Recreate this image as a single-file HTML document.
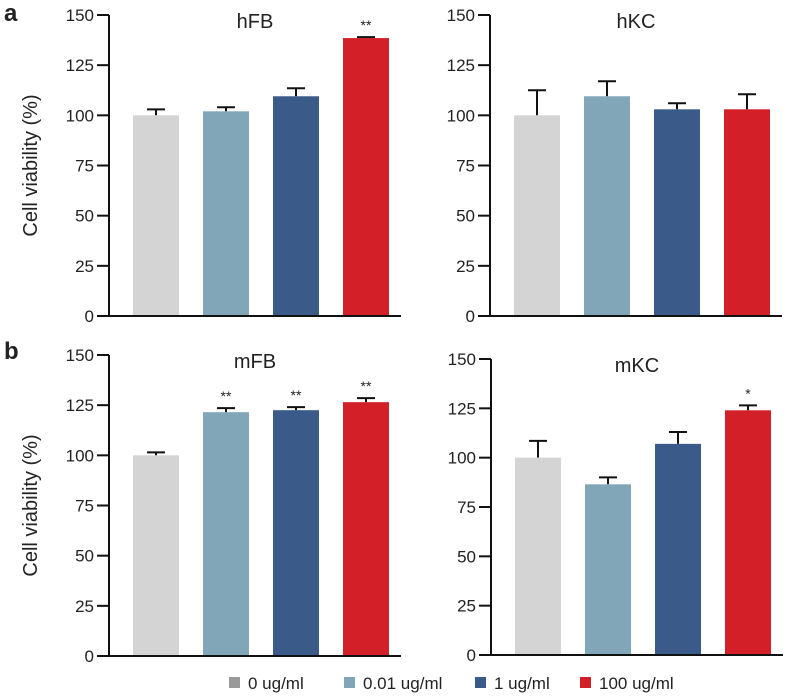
<!DOCTYPE html>
<html><head><meta charset="utf-8"><style>
body{margin:0;background:#fff;width:797px;height:695px;overflow:hidden}
svg text{font-family:"Liberation Sans",Arial,sans-serif;fill:#222}
</style></head><body>
<svg id="c" width="797" height="695" xmlns="http://www.w3.org/2000/svg"></svg>
<script>
const categories=["0 ug/ml","0.01 ug/ml","1 ug/ml","100 ug/ml"];
const panelTitles=["hFB","hKC","mFB","mKC"];
const hFBValues=[100,102,109.5,138.5];
const hFBErrors=[3,2,4,0.5];
const hFBStars=["","","","**"];
const hKCValues=[100,109.5,103,103];
const hKCErrors=[12.5,7.5,3,7.5];
const hKCStars=["","","",""];
const mFBValues=[100,121.5,122.5,126.5];
const mFBErrors=[1.5,2,1.5,2];
const mFBStars=["","**","**","**"];
const mKCValues=[100,86.5,107,124];
const mKCErrors=[8.5,3.5,6,2.5];
const mKCStars=["","","","*"];
const tickLabels=[0,25,50,75,100,125,150];
const colors=["#d4d4d4","#80a6b8","#3a5a89","#d21f28"];
const svg=document.getElementById('c');
const NS="http://www.w3.org/2000/svg";
function mk(t,a,txt){const e=document.createElementNS(NS,t);for(const k in a)e.setAttribute(k,a[k]);if(txt!==undefined)e.textContent=txt;svg.appendChild(e);return e;}
const panels=[
 {ax:109,top:15,bot:316,vals:hFBValues,errs:hFBErrors,stars:hFBStars,key:"hfb"},
 {ax:490,top:15,bot:316,vals:hKCValues,errs:hKCErrors,stars:hKCStars,key:"hkc"},
 {ax:109,top:355,bot:656,vals:mFBValues,errs:mFBErrors,stars:mFBStars,key:"mfb"},
 {ax:491,top:359,bot:655,vals:mKCValues,errs:mKCErrors,stars:mKCStars,key:"mkc"}];
panels.forEach((p,pi)=>{
 const y=v=>p.bot-(v/150)*(p.bot-p.top);
 const x=i=>p.ax+24+i*70;
 let e=mk('line',{x1:p.ax,y1:p.top,x2:p.ax,y2:p.bot,stroke:'#111','stroke-width':2});
 
 
 e=mk('line',{x1:p.ax-11,y1:p.bot,x2:p.ax+292,y2:p.bot,stroke:'#111','stroke-width':2});
 
 
 tickLabels.forEach(t=>{
  mk('line',{x1:p.ax-12,y1:y(t),x2:p.ax,y2:y(t),stroke:'#111','stroke-width':2});
  e=mk('text',{x:p.ax-15,y:y(t)+6,'text-anchor':'end','font-size':17},String(t));
  
  
 });
 p.vals.forEach((v,i)=>{
  const ey=y(v+p.errs[i]);
  mk('line',{x1:x(i)+23,y1:y(v),x2:x(i)+23,y2:ey,stroke:'#111','stroke-width':2});
  mk('line',{x1:x(i)+14,y1:ey,x2:x(i)+32,y2:ey,stroke:'#111','stroke-width':2});
  e=mk('rect',{x:x(i),y:y(v),width:46,height:p.bot-1-y(v),fill:colors[i]});
  
  
  if(p.stars[i]){e=mk('text',{x:x(i)+23,y:ey-7,'text-anchor':'middle','font-size':14},p.stars[i]);
   
   }
 });
 e=mk('text',{x:p.ax+146,y:p.top+13,'text-anchor':'middle','font-size':20},panelTitles[pi]);
 
 
 if(pi%2===0){
  const cy=(p.top+p.bot)/2;
  e=mk('text',{x:37,y:cy,'text-anchor':'middle','font-size':20,transform:`rotate(-90 37 ${cy})`},"Cell viability (%)");
  
  
 }
});
let e=mk('text',{x:4,y:21,'font-size':24,'font-weight':'bold'},"a");


e=mk('text',{x:4,y:359,'font-size':24,'font-weight':'bold'},"b");


const legX=[229,344,475,580];
const legCols=["#9a9a9a","#80a6b8","#3a5a89","#d21f28"];
categories.forEach((c,i)=>{
 let r=mk('rect',{x:legX[i],y:677,width:11,height:11,fill:legCols[i]});
 
 
 r=mk('text',{x:legX[i]+19,y:689,'font-size':17},c);
 
 
});
</script>
</body></html>
